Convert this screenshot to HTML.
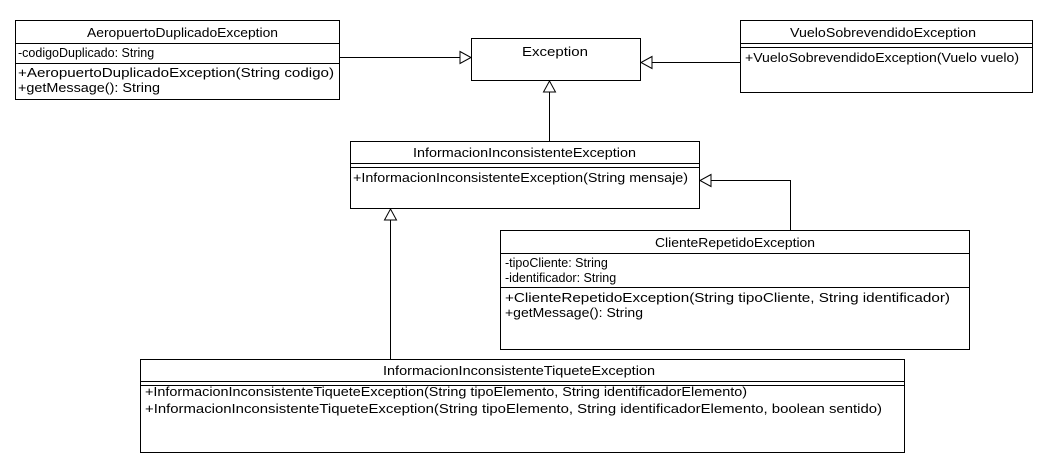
<!DOCTYPE html>
<html><head><meta charset="utf-8"><style>
html,body{margin:0;padding:0;background:#fff;}
svg{display:block;}
text{font-family:"Liberation Sans",sans-serif;font-size:12.5px;fill:#000;}
</style></head><body>
<svg width="1050" height="470" viewBox="0 0 1050 470" xmlns="http://www.w3.org/2000/svg">
<g fill="#fff" stroke="#000" stroke-width="1">
<rect x="15.5" y="20.5" width="324" height="79"/>
<line x1="15" y1="43.5" x2="340" y2="43.5"/>
<line x1="15" y1="63.5" x2="340" y2="63.5"/>
<rect x="471.5" y="38.5" width="169" height="42"/>
<rect x="740.5" y="20.5" width="292" height="72"/>
<line x1="740" y1="43.5" x2="1033" y2="43.5"/>
<line x1="740" y1="47.5" x2="1033" y2="47.5"/>
<rect x="350.5" y="141.5" width="349" height="67"/>
<line x1="350" y1="163.5" x2="700" y2="163.5"/>
<line x1="350" y1="167.5" x2="700" y2="167.5"/>
<rect x="500.5" y="230.5" width="469" height="119"/>
<line x1="500" y1="253.5" x2="970" y2="253.5"/>
<line x1="500" y1="287.5" x2="970" y2="287.5"/>
<rect x="140.5" y="359.5" width="764" height="93"/>
<line x1="140" y1="381.5" x2="905" y2="381.5"/>
<line x1="140" y1="385.5" x2="905" y2="385.5"/>
</g>
<g stroke="#000" stroke-width="1" fill="none">
<polyline points="340,57.5 460,57.5"/>
<polygon points="460,51.5 471,57.5 460,63.5" fill="#fff"/>
<polyline points="740,62.5 652,62.5"/>
<polygon points="652,56.5 641,62.5 652,68.5" fill="#fff"/>
<polyline points="549.5,141 549.5,92"/>
<polygon points="543.5,92 549.5,81 555.5,92" fill="#fff"/>
<polyline points="790.5,230 790.5,180.5 711,180.5"/>
<polygon points="711,174.5 700,180.5 711,186.5" fill="#fff"/>
<polyline points="390.5,359 390.5,220"/>
<polygon points="384.5,220 390.5,209 396.5,220" fill="#fff"/>
</g>
<text x="87" y="37" textLength="191" lengthAdjust="spacingAndGlyphs">AeropuertoDuplicadoException</text>
<text x="18" y="57">-codigoDuplicado: String</text>
<text x="18" y="77" textLength="316" lengthAdjust="spacingAndGlyphs">+AeropuertoDuplicadoException(String codigo)</text>
<text x="18" y="92" textLength="142" lengthAdjust="spacingAndGlyphs">+getMessage(): String</text>
<text x="522" y="56" textLength="66" lengthAdjust="spacingAndGlyphs">Exception</text>
<text x="790" y="37" textLength="186" lengthAdjust="spacingAndGlyphs">VueloSobrevendidoException</text>
<text x="745" y="62" textLength="274" lengthAdjust="spacingAndGlyphs">+VueloSobrevendidoException(Vuelo vuelo)</text>
<text x="413" y="157" textLength="223" lengthAdjust="spacingAndGlyphs">InformacionInconsistenteException</text>
<text x="353" y="182" textLength="335" lengthAdjust="spacingAndGlyphs">+InformacionInconsistenteException(String mensaje)</text>
<text x="655" y="247" textLength="160" lengthAdjust="spacingAndGlyphs">ClienteRepetidoException</text>
<text x="505" y="267">-tipoCliente: String</text>
<text x="505" y="282">-identificador: String</text>
<text x="505" y="302" textLength="445" lengthAdjust="spacingAndGlyphs">+ClienteRepetidoException(String tipoCliente, String identificador)</text>
<text x="505" y="317" textLength="138" lengthAdjust="spacingAndGlyphs">+getMessage(): String</text>
<text x="383" y="375" textLength="272" lengthAdjust="spacingAndGlyphs">InformacionInconsistenteTiqueteException</text>
<text x="145" y="396" textLength="602" lengthAdjust="spacingAndGlyphs">+InformacionInconsistenteTiqueteException(String tipoElemento, String identificadorElemento)</text>
<text x="145" y="413" textLength="737" lengthAdjust="spacingAndGlyphs">+InformacionInconsistenteTiqueteException(String tipoElemento, String identificadorElemento, boolean sentido)</text>
</svg>
</body></html>
